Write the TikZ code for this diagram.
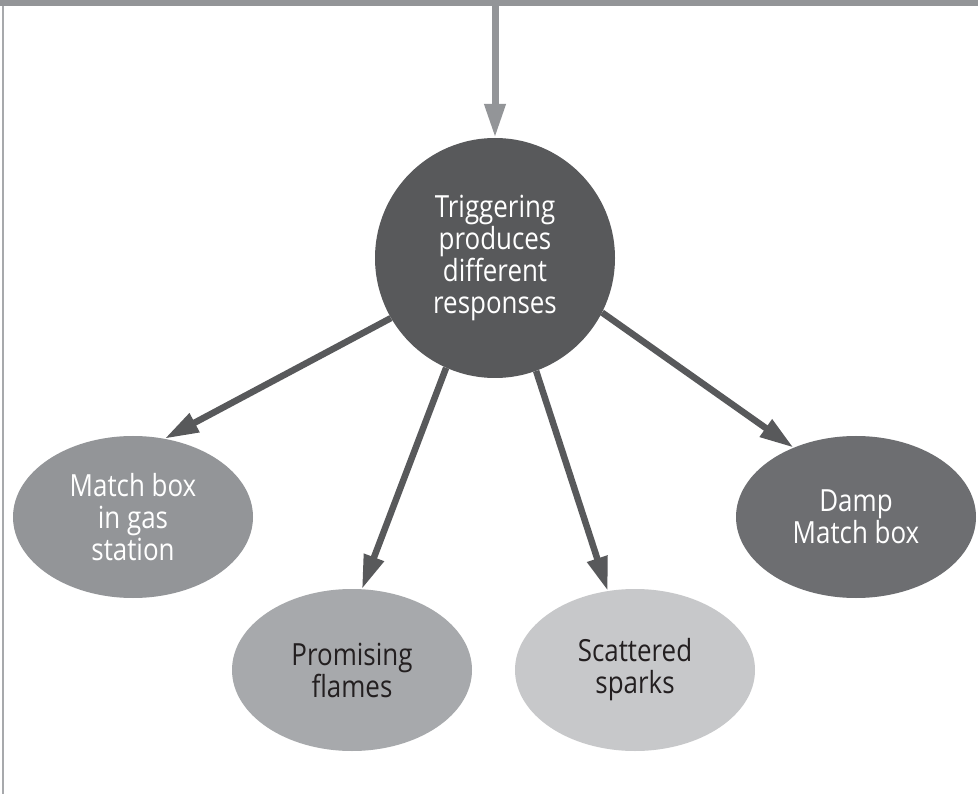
\documentclass[tikz,border=0pt]{standalone}
\usepackage{fontspec}
\setmainfont{Open Sans}[FakeStretch=0.85]
\usetikzlibrary{shapes.geometric,arrows.meta}
\definecolor{cdark}{HTML}{58595B}
\definecolor{cmid}{HTML}{939598}
\definecolor{clight}{HTML}{A7A9AC}
\definecolor{cpale}{HTML}{C7C8CA}
\definecolor{cdamp}{HTML}{6D6E71}
\definecolor{ctext}{HTML}{231F20}
\tikzset{
  lbl/.style={font=\fontsize{30.5}{32}\selectfont, align=center},
  bubble/.style={ellipse, minimum width=240pt, minimum height=162pt, inner sep=0pt, lbl},
  hub/.style={circle, minimum size=240pt, inner sep=0pt, fill=cdark, text=white, lbl},
  darrow/.style={draw=cdark, line width=6.5pt, -{Triangle[width=20pt,length=34pt]}, fill=cdark},
  garrow/.style={draw=cmid, line width=7pt, -{Triangle[width=20pt,length=34pt]}, fill=cmid}
}
\begin{document}
\begin{tikzpicture}[x=1pt,y=-1pt]
\useasboundingbox (0,0) rectangle (978,794);
\fill[white] (0,0) rectangle (978,794);
\fill[cmid] (0,0) rectangle (978,6.5);
\draw[clight, line width=1.3pt] (3,6.5) -- (3,794);

\node[hub] (hub) at (495,258) {Triggering\\produces\\different\\responses};
\node[bubble, fill=cmid, text=white] (gas) at (133,517) {Match box\\in gas\\station};
\node[bubble, fill=clight, text=ctext] (flames) at (352,670) {Promising\\flames};
\node[bubble, fill=cpale, text=ctext] (sparks) at (635,670) {Scattered\\sparks};
\node[bubble, fill=cdamp, text=white] (damp) at (856,517) {Damp\\Match box};

\coordinate (src) at (495,6.5);
\draw[garrow] (src) -- (hub.north);

\draw[darrow] (hub.210.6) -- (gas.68);
\draw[darrow] (hub.246.4) -- (flames.83);
\draw[darrow] (hub.290) -- (sparks.109);
\draw[darrow] (hub.333) -- (damp.132);
\end{tikzpicture}
\end{document}
